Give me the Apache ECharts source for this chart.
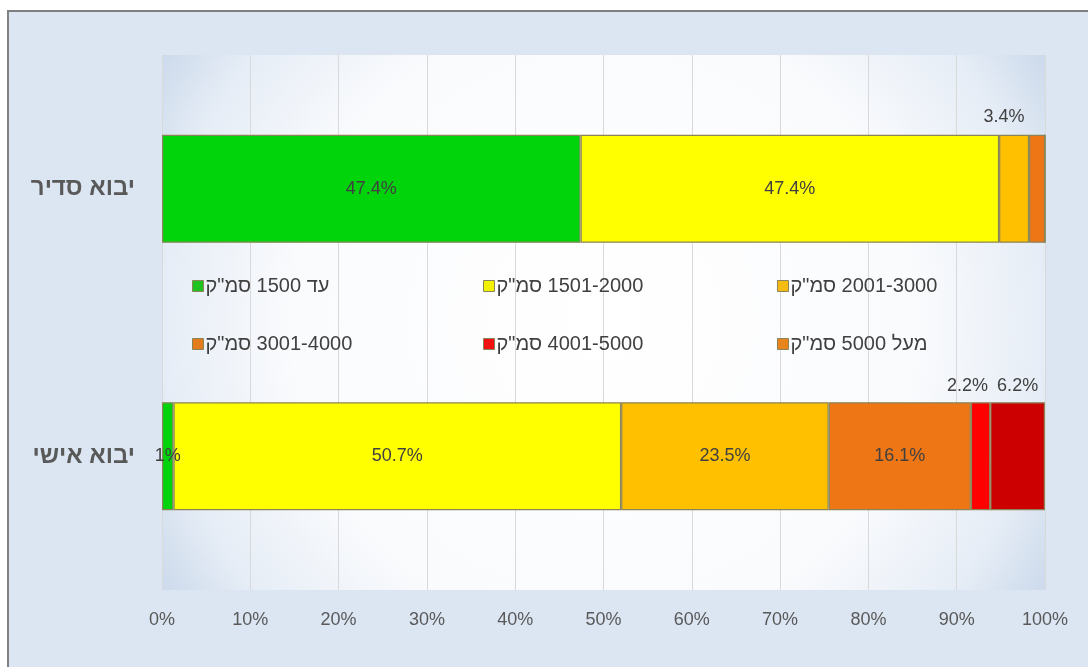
<!DOCTYPE html>
<html>
<head>
<meta charset="utf-8">
<script src="https://cdn.jsdelivr.net/npm/echarts@6/dist/echarts.min.js"></script>
<style>
html,body{margin:0;padding:0;background:#fff;}
#c{width:1088px;height:667px;}
</style>
</head>
<body>
<div id="c"></div>
<script>
// ---- data ----
var categories = ['יבוא סדיר', 'יבוא אישי'];
var seriesNames = ['עד 1500 סמ"ק', '1501-2000 סמ"ק', '2001-3000 סמ"ק', '3001-4000 סמ"ק', '4001-5000 סמ"ק', 'מעל 5000 סמ"ק'];
var upTo1500 = [47.4, 1.3];
var s1501to2000 = [47.4, 50.7];
var s2001to3000 = [3.4, 23.5];
var s3001to4000 = [1.8, 16.1];
var s4001to5000 = [0, 2.2];
var over5000 = [0, 6.2];
var labelTexts = [
  ['47.4%', '1%'],
  ['47.4%', '50.7%'],
  ['3.4%', '23.5%'],
  ['', '16.1%'],
  ['', '2.2%'],
  ['', '6.2%']
];
var xTicks = [0, 10, 20, 30, 40, 50, 60, 70, 80, 90, 100];

// ---- styling ----
var FONT = 'Liberation Sans, Arial, sans-serif';
var colors = ['#02D40C', '#FFFF00', '#FFC000', '#EF7615', '#FF0000', '#CC0000'];
var legendIconColors = ['#1FC21F', '#F2F200', '#F5BB10', '#E37A1C', '#F01010', '#E8841C'];
var legendPos = [[192, 276], [483, 276], [777, 276], [192, 334], [483, 334], [777, 334]];
var rtl = function (s) { return '\u202B' + s + '\u202C'; };
var values = [upTo1500, s1501to2000, s2001to3000, s3001to4000, s4001to5000, over5000];

var labelPos = {
  '2_0': {position: 'top', distance: 9, offset: [-10, 0]},
  '4_1': {position: 'top', distance: 7, offset: [-13, 0]},
  '5_1': {position: 'top', distance: 7, offset: [0, 0]}
};

var series = values.map(function (arr, si) {
  return {
    name: rtl(seriesNames[si]),
    type: 'bar',
    stack: 'total',
    barWidth: 108,
    itemStyle: {color: colors[si], borderColor: '#8a8458', borderWidth: 1.2},
    label: {
      show: true, position: 'inside', color: '#404040', fontSize: 18,
      fontFamily: FONT,
      formatter: function (p) { return labelTexts[si][p.dataIndex]; }
    },
    data: arr.map(function (v, di) {
      var item = {value: v};
      var k = si + '_' + di;
      if (labelPos[k]) item.label = Object.assign({show: true}, labelPos[k]);
      if (!labelTexts[si][di]) item.label = {show: false};
      return item;
    })
  };
});

var legends = seriesNames.map(function (n, i) {
  return {
    orient: 'horizontal',
    left: legendPos[i][0], top: legendPos[i][1],
    itemWidth: 11, itemHeight: 11, padding: 0,
    icon: 'rect', selectedMode: false,
    textStyle: {color: '#404040', fontSize: 20, fontFamily: FONT, padding: [0, 0, 0, -3]},
    data: [{name: rtl(n), itemStyle: {color: legendIconColors[i], borderColor: '#8a8458', borderWidth: 1}}]
  };
});

var chart = echarts.init(document.getElementById('c'), null, {renderer: 'canvas'});
chart.setOption({
  backgroundColor: '#ffffff',
  animation: false,
  graphic: [{
    type: 'rect', z: -10, left: 7, top: 10,
    shape: {width: 1100, height: 680},
    style: {fill: '#DCE6F2', stroke: '#808080', lineWidth: 2}
  }],
  grid: {
    left: 162, right: 43, top: 55, bottom: 77,
    show: true, borderWidth: 0,
    backgroundColor: new echarts.graphic.RadialGradient(0.5, 0.5, 0.97, [
      {offset: 0, color: '#ffffff'},
      {offset: 0.6, color: '#fafbfd'},
      {offset: 0.85, color: '#e6edf6'},
      {offset: 1, color: '#CBD9EB'}
    ])
  },
  legend: legends,
  xAxis: {
    type: 'value', min: xTicks[0], max: xTicks[xTicks.length - 1], interval: 10,
    axisLine: {show: false}, axisTick: {show: false},
    splitLine: {show: true, lineStyle: {color: '#D9D9D9', width: 1}},
    axisLabel: {color: '#595959', fontSize: 18, margin: 21, fontFamily: FONT,
      formatter: '{value}%'}
  },
  yAxis: {
    type: 'category', inverse: true,
    data: categories.map(rtl),
    axisLine: {show: true, lineStyle: {color: '#D9D9D9'}},
    axisTick: {show: false},
    axisLabel: {color: '#595959', fontSize: 24, fontWeight: 'bold', margin: 27, fontFamily: FONT}
  },
  series: series
});
</script>
</body>
</html>
